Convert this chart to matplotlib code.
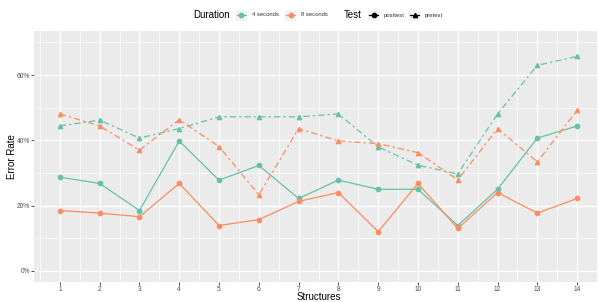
import matplotlib
matplotlib.use("Agg")
import matplotlib.pyplot as plt
from matplotlib.lines import Line2D
from matplotlib.patches import Rectangle
from matplotlib.ticker import FixedLocator, FuncFormatter

plt.rcParams["font.family"] = ["Liberation Sans", "DejaVu Sans"]

structures = list(range(1, 15))
pre_4 = [44.4, 46.2, 40.7, 43.6, 47.2, 47.2, 47.2, 48.1, 38.0, 32.4, 29.7, 48.1, 63.0, 65.7]
pre_8 = [48.1, 44.4, 37.0, 46.3, 38.1, 23.3, 43.6, 39.8, 39.0, 36.2, 27.9, 43.6, 33.4, 49.2]
post_4 = [28.7, 26.8, 18.5, 39.8, 27.8, 32.3, 22.2, 27.8, 25.0, 25.0, 13.9, 25.0, 40.7, 44.4]
post_8 = [18.5, 17.7, 16.6, 26.8, 13.9, 15.7, 21.3, 24.0, 12.0, 26.8, 13.0, 24.0, 17.7, 22.2]

GREEN = "#66C2A5"
ORANGE = "#FC8D62"
W, H = 598, 302
P_LEFT, P_RIGHT, P_TOP, P_BOTTOM = 34, 603, 31, 282.3

fig = plt.figure(figsize=(W / 100, H / 100), dpi=100)
ax = fig.add_axes([P_LEFT / W, (H - P_BOTTOM) / H,
                   (P_RIGHT - P_LEFT) / W, (P_BOTTOM - P_TOP) / H])
ax.set_facecolor("#EBEBEB")
for s in ax.spines.values():
    s.set_visible(False)

dash = (5, 2.5, 1.8, 2.5)
series = [
    (post_4, GREEN, "o", None),
    (post_8, ORANGE, "o", None),
    (pre_4, GREEN, "^", dash),
    (pre_8, ORANGE, "^", dash),
]
for vals, color, marker, ls in series:
    line, = ax.plot(structures, vals, color=color, lw=0.9, marker=marker,
                    markersize=3.1, zorder=3)
    if ls is not None:
        line.set_dashes(ls)

ax.set_xlim(0.35, 14.65)
ax.set_ylim(-3.5, 73.5)
ax.xaxis.set_major_locator(FixedLocator(structures))
ax.xaxis.set_minor_locator(FixedLocator([x + 0.5 for x in range(0, 15)]))
ax.yaxis.set_major_locator(FixedLocator([0, 20, 40, 60]))
ax.yaxis.set_minor_locator(FixedLocator([10, 30, 50, 70]))
ax.yaxis.set_major_formatter(FuncFormatter(lambda v, p: f"{v:.0f}%"))
ax.grid(which="major", color="white", lw=1.0)
ax.grid(which="minor", color="white", lw=0.5)
ax.set_axisbelow(True)
ax.tick_params(which="major", length=2.0, width=0.6, color="#333333",
               labelsize=4.8, labelcolor="#4D4D4D", pad=1.0)
ax.tick_params(which="minor", length=0)

ax.set_xlabel("Structures", fontsize=7, va="center")
ax.xaxis.set_label_coords(0.5, -(297 - P_BOTTOM) / (P_BOTTOM - P_TOP))
ax.set_ylabel("Error Rate", fontsize=7, va="center")
ax.yaxis.set_label_coords(-(P_LEFT - 12.5) / (P_RIGHT - P_LEFT), 0.5)

# legend drawn along the top
ly = (H - 15) / H


def fx(px):
    return px / W


def key(x, color, marker):
    fig.add_artist(Rectangle((fx(x), (H - 20.5) / H), 11 / W, 11 / H,
                             transform=fig.transFigure, facecolor="#F2F2F2",
                             edgecolor="none"))
    fig.add_artist(Line2D([fx(x + 1), fx(x + 10)], [ly, ly],
                          transform=fig.transFigure, color=color, lw=0.9))
    fig.add_artist(Line2D([fx(x + 5.5)], [ly], transform=fig.transFigure,
                          color=color, marker=marker, markersize=3.1, lw=0))


fig.text(fx(193), ly, "Duration", fontsize=7, va="center")
key(235.5, GREEN, "o")
fig.text(fx(252), ly, "4 seconds", fontsize=4.2, va="center", color="#333333")
key(285, ORANGE, "o")
fig.text(fx(301), ly, "8 seconds", fontsize=4.2, va="center", color="#333333")
fig.text(fx(344), ly, "Test", fontsize=7, va="center")
key(368, "black", "o")
fig.text(fx(384), ly, "posttest", fontsize=4.2, va="center", color="#333333")
key(409, "black", "^")
fig.text(fx(425), ly, "pretest", fontsize=4.2, va="center", color="#333333")

fig.savefig("out.png", dpi=100)
